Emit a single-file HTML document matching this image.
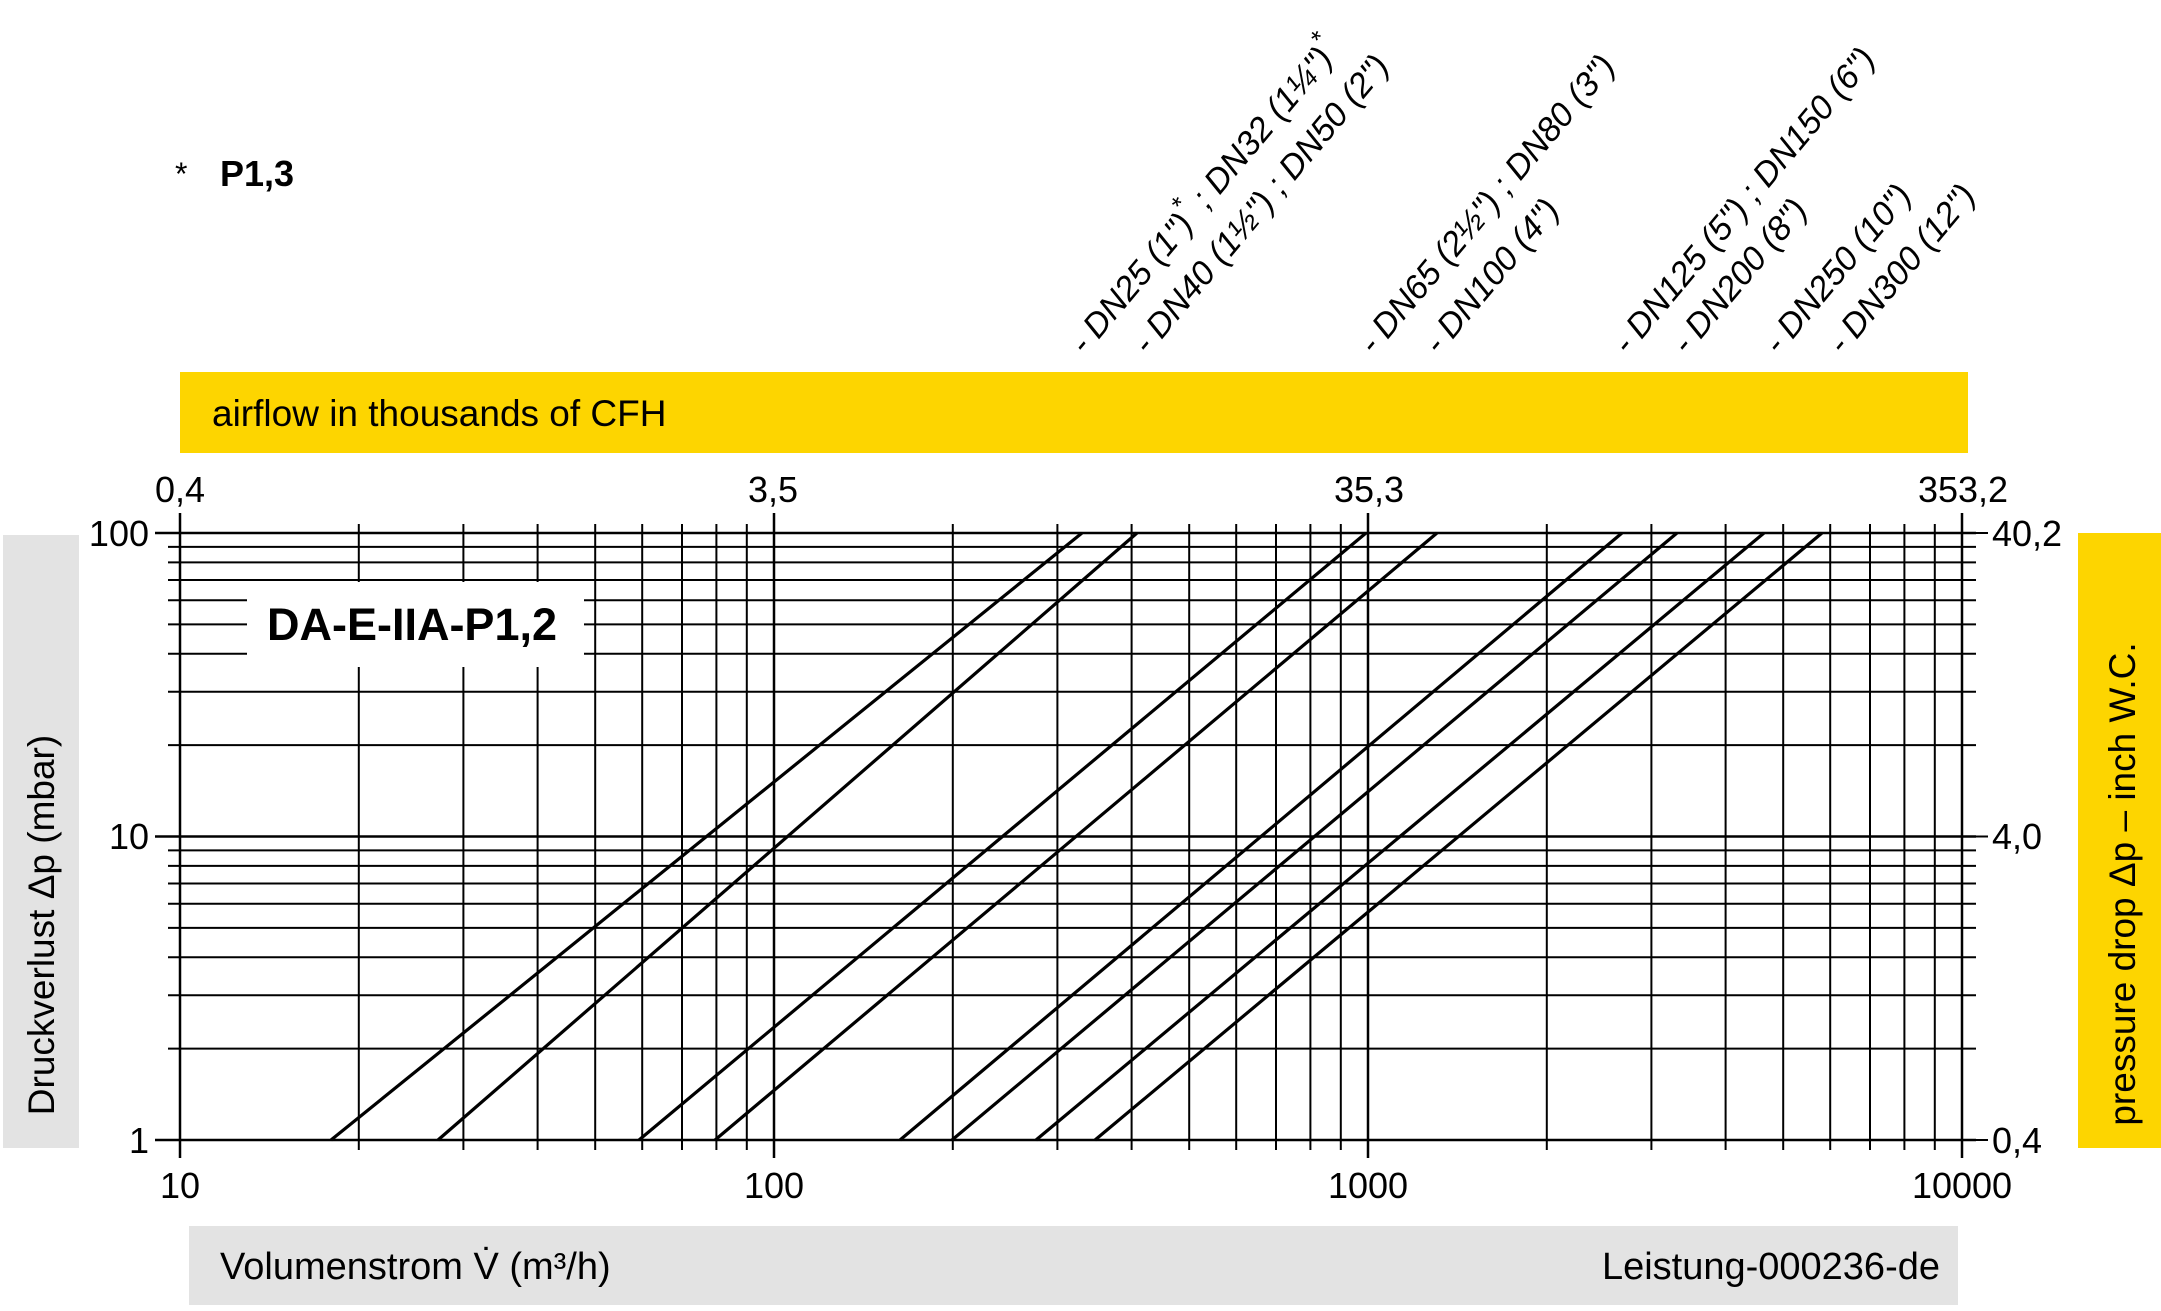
<!DOCTYPE html>
<html><head><meta charset="utf-8"><style>
html,body{margin:0;padding:0;background:#fff;}
svg{display:block;}
text{font-family:"Liberation Sans",Arial,sans-serif;fill:#000;}
</style></head><body>
<svg width="2161" height="1311" viewBox="0 0 2161 1311" xmlns="http://www.w3.org/2000/svg">
<rect x="180" y="372" width="1788" height="81" fill="#fdd500"/>
<text x="212" y="426" font-size="37">airflow in thousands of CFH</text>
<rect x="3" y="535" width="76" height="613" fill="#e3e3e3"/>
<text transform="translate(54,925) rotate(-90)" text-anchor="middle" font-size="37">Druckverlust Δp (mbar)</text>
<rect x="2078" y="533" width="83" height="615" fill="#fdd500"/>
<text transform="translate(2135,884) rotate(-90)" text-anchor="middle" font-size="37">pressure drop Δp – inch W.C.</text>
<rect x="189" y="1226" width="1769" height="79" fill="#e3e3e3"/>
<text x="220" y="1279" font-size="38">Volumenstrom V̇ (m³/h)</text>
<text x="1940" y="1279" font-size="38" text-anchor="end">Leistung-000236-de</text>
<text x="175" y="185" font-size="32">*</text>
<text x="220" y="186" font-size="36" font-weight="bold">P1,3</text>

<g stroke="#000" stroke-width="2">
<line x1="155" y1="533" x2="1976" y2="533" stroke-width="2.5"/>
<line x1="155" y1="836.5" x2="1976" y2="836.5" stroke-width="2.5"/>
<line x1="155" y1="1140" x2="1976" y2="1140" stroke-width="2.5"/>
<line x1="1962" y1="533" x2="1988" y2="533"/>
<line x1="1962" y1="836.5" x2="1988" y2="836.5"/>
<line x1="1962" y1="1140" x2="1988" y2="1140"/>
<line x1="168" y1="546.9" x2="1976" y2="546.9"/>
<line x1="168" y1="562.4" x2="1976" y2="562.4"/>
<line x1="168" y1="580" x2="1976" y2="580"/>
<line x1="168" y1="600.3" x2="1976" y2="600.3"/>
<line x1="168" y1="624.4" x2="1976" y2="624.4"/>
<line x1="168" y1="653.8" x2="1976" y2="653.8"/>
<line x1="168" y1="691.7" x2="1976" y2="691.7"/>
<line x1="168" y1="745.1" x2="1976" y2="745.1"/>
<line x1="168" y1="850.4" x2="1976" y2="850.4"/>
<line x1="168" y1="865.9" x2="1976" y2="865.9"/>
<line x1="168" y1="883.5" x2="1976" y2="883.5"/>
<line x1="168" y1="903.8" x2="1976" y2="903.8"/>
<line x1="168" y1="927.9" x2="1976" y2="927.9"/>
<line x1="168" y1="957.3" x2="1976" y2="957.3"/>
<line x1="168" y1="995.2" x2="1976" y2="995.2"/>
<line x1="168" y1="1048.6" x2="1976" y2="1048.6"/>
</g>
<g stroke="#000" stroke-width="2">
<line x1="180" y1="513" x2="180" y2="1158" stroke-width="2.5"/>
<line x1="774" y1="513" x2="774" y2="1158" stroke-width="2.5"/>
<line x1="1368" y1="513" x2="1368" y2="1158" stroke-width="2.5"/>
<line x1="1962" y1="513" x2="1962" y2="1158" stroke-width="2.5"/>
<line x1="358.8" y1="524" x2="358.8" y2="1150"/><line x1="463.4" y1="524" x2="463.4" y2="1150"/><line x1="537.6" y1="524" x2="537.6" y2="1150"/><line x1="595.2" y1="524" x2="595.2" y2="1150"/><line x1="642.2" y1="524" x2="642.2" y2="1150"/><line x1="682" y1="524" x2="682" y2="1150"/><line x1="716.4" y1="524" x2="716.4" y2="1150"/><line x1="746.8" y1="524" x2="746.8" y2="1150"/>
<line x1="952.8" y1="524" x2="952.8" y2="1150"/><line x1="1057.4" y1="524" x2="1057.4" y2="1150"/><line x1="1131.6" y1="524" x2="1131.6" y2="1150"/><line x1="1189.2" y1="524" x2="1189.2" y2="1150"/><line x1="1236.2" y1="524" x2="1236.2" y2="1150"/><line x1="1276" y1="524" x2="1276" y2="1150"/><line x1="1310.4" y1="524" x2="1310.4" y2="1150"/><line x1="1340.8" y1="524" x2="1340.8" y2="1150"/>
<line x1="1546.8" y1="524" x2="1546.8" y2="1150"/><line x1="1651.4" y1="524" x2="1651.4" y2="1150"/><line x1="1725.6" y1="524" x2="1725.6" y2="1150"/><line x1="1783.2" y1="524" x2="1783.2" y2="1150"/><line x1="1830.2" y1="524" x2="1830.2" y2="1150"/><line x1="1870" y1="524" x2="1870" y2="1150"/><line x1="1904.4" y1="524" x2="1904.4" y2="1150"/><line x1="1934.8" y1="524" x2="1934.8" y2="1150"/>
</g>
<g stroke="#000" stroke-width="3.2">
<line x1="331" y1="1140" x2="1082" y2="533"/>
<line x1="438" y1="1140" x2="1137" y2="533"/>
<line x1="639" y1="1140" x2="1366" y2="533"/>
<line x1="715" y1="1140" x2="1437" y2="533"/>
<line x1="900" y1="1140" x2="1622" y2="533"/>
<line x1="952" y1="1140" x2="1677" y2="533"/>
<line x1="1036" y1="1140" x2="1764" y2="533"/>
<line x1="1095" y1="1140" x2="1822" y2="533"/>
</g>
<rect x="247" y="582" width="337" height="85" fill="#fff"/>
<text x="412" y="640" font-size="45" font-weight="bold" text-anchor="middle">DA-E-IIA-P1,2</text>

<g font-size="36">
<text x="149" y="546" text-anchor="end">100</text>
<text x="149" y="849" text-anchor="end">10</text>
<text x="149" y="1153" text-anchor="end">1</text>
<text x="180" y="1198" text-anchor="middle">10</text>
<text x="774" y="1198" text-anchor="middle">100</text>
<text x="1368" y="1198" text-anchor="middle">1000</text>
<text x="1962" y="1198" text-anchor="middle">10000</text>
<text x="1992" y="546">40,2</text>
<text x="1992" y="849">4,0</text>
<text x="1992" y="1153">0,4</text>
<text x="180" y="502" text-anchor="middle">0,4</text>
<text x="773" y="502" text-anchor="middle">3,5</text>
<text x="1369" y="502" text-anchor="middle">35,3</text>
<text x="1963" y="502" text-anchor="middle">353,2</text>
</g>
<g font-size="34" font-style="italic">
<text transform="translate(1085,356) rotate(-50)">- DN25 (1")<tspan dy="-16" font-size="26">*</tspan><tspan dy="16"> ; DN32 (1¼")</tspan><tspan dy="-16" font-size="26">*</tspan></text>
<text transform="translate(1148,356) rotate(-50)">- DN40 (1½") ; DN50 (2")</text>
<text transform="translate(1374,356) rotate(-50)">- DN65 (2½") ; DN80 (3")</text>
<text transform="translate(1439,356) rotate(-50)">- DN100 (4")</text>
<text transform="translate(1628,356) rotate(-50)">- DN125 (5") ; DN150 (6")</text>
<text transform="translate(1687,356) rotate(-50)">- DN200 (8")</text>
<text transform="translate(1779,356) rotate(-50)">- DN250 (10")</text>
<text transform="translate(1843,356) rotate(-50)">- DN300 (12")</text>
</g>
</svg>
</body></html>
